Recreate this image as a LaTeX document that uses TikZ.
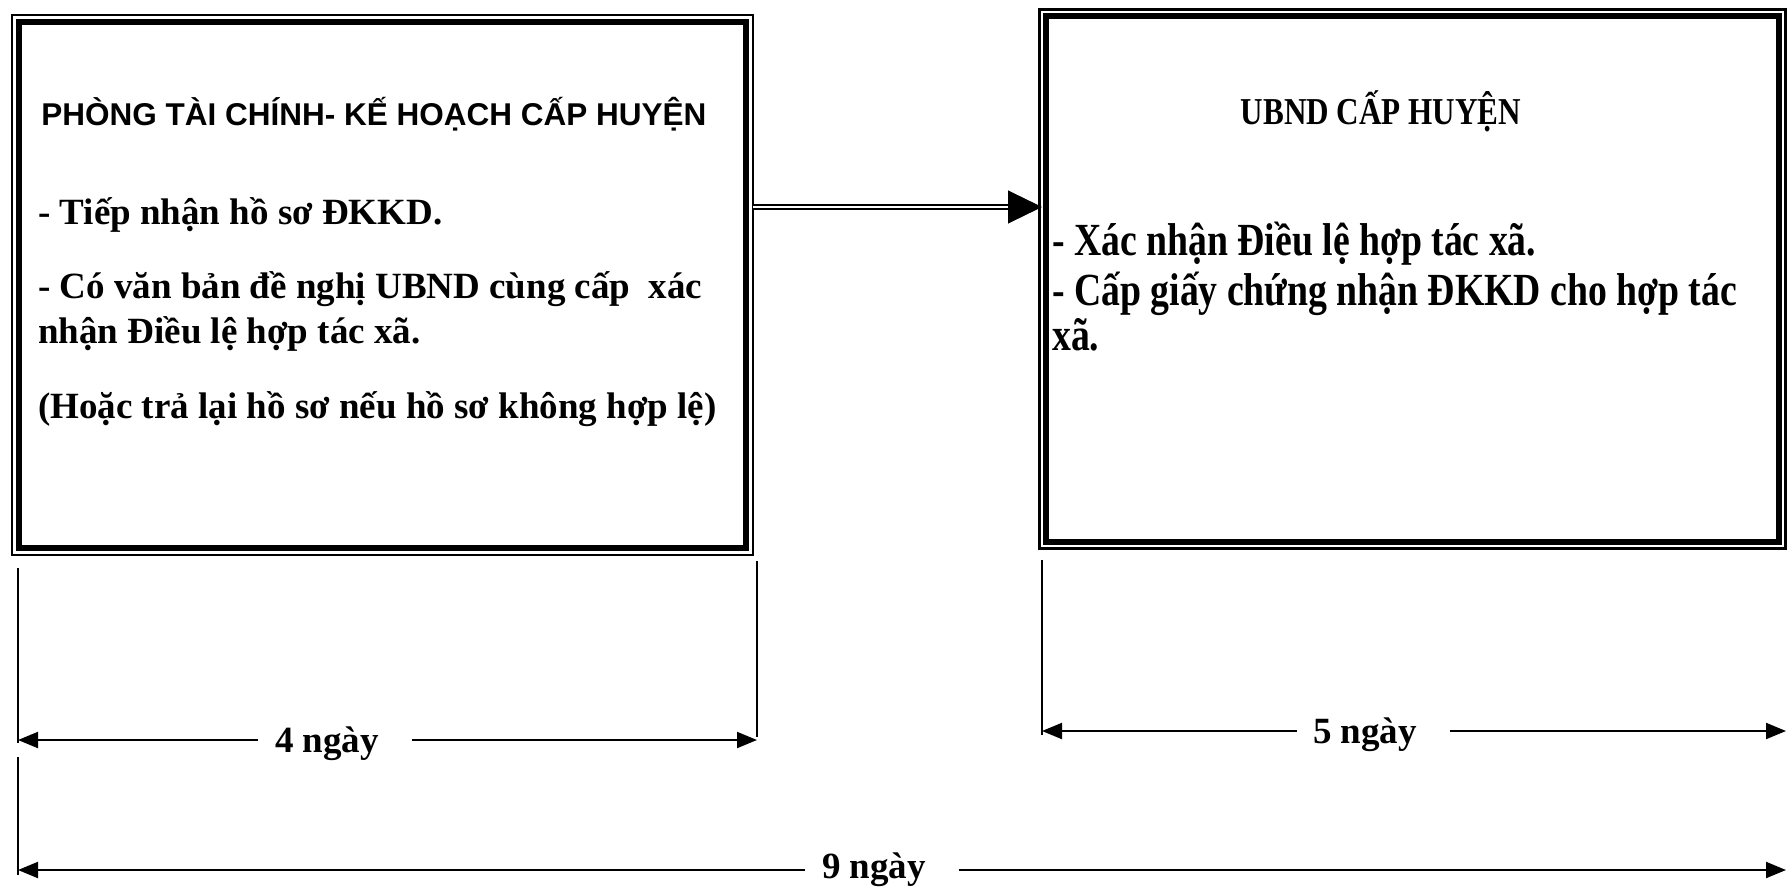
\documentclass[tikz,border=0pt]{standalone}
\usepackage{fontspec}
\setmainfont{Liberation Serif}
\newfontfamily\titlesans{Liberation Sans}
\newfontfamily\condserif[FakeStretch=0.82]{Liberation Serif}
\usetikzlibrary{arrows.meta,calc}
\begin{document}
\begin{tikzpicture}[x=1pt,y=-1pt,
  thickbox/.style={draw, line width=6.5pt, outer sep=0pt, inner sep=0pt},
  thinframe/.style={draw, line width=2.2pt},
  lefttxt/.style={anchor=base west, inner sep=0pt, font=\bfseries\fontsize{37}{44}\selectfont},
  lefttitle/.style={anchor=base, inner sep=0pt, font=\titlesans\bfseries\fontsize{31.5}{38}\selectfont},
  righttxt/.style={anchor=base west, inner sep=0pt, font=\condserif\bfseries\fontsize{46}{54}\selectfont},
  righttitle/.style={anchor=base, inner sep=0pt, font=\condserif\bfseries\fontsize{38}{46}\selectfont},
  dimtxt/.style={anchor=base, inner sep=0pt, font=\bfseries\fontsize{37}{44}\selectfont},
  dimarrow/.style={draw, line width=2pt, -{Triangle[length=20pt,width=16pt]}},
  extline/.style={draw, line width=2pt},
  dblline/.style={draw, double, line width=2pt, double distance=2.5pt},
  headarrow/.style={draw, line width=1pt, -{Triangle[length=34pt,width=33pt]}}
]
\useasboundingbox[fill=white] (0,0) rectangle (1787,889);

% boxes
\node[thickbox, minimum width=727pt, minimum height=526pt] (L) at (382.5,285) {};
\draw[thinframe] ([shift={(-7,-7)}]L.north west) rectangle ([shift={(7,7)}]L.south east);
\node[thickbox, minimum width=733pt, minimum height=526pt] (R) at (1412.5,279) {};
\draw[thinframe] ([shift={(-6.5,-6.5)}]R.north west) rectangle ([shift={(6.5,6.5)}]R.south east);

% left box text
\node[lefttitle] (lt) at (374,125) {PHÒNG TÀI CHÍNH- KẾ HOẠCH CẤP HUYỆN};
\node[lefttxt] (l1) at (38,224) {- Tiếp nhận hồ sơ ĐKKD.};
\node[lefttxt] (l2) at (38,298) {- Có văn bản đề nghị UBND cùng cấp\ \ xác};
\node[lefttxt] (l3) at (38,343) {nhận Điều lệ hợp tác xã.};
\node[lefttxt] (l4) at (38,418) {(Hoặc trả lại hồ sơ nếu hồ sơ không hợp lệ)};

% right box text
\node[righttitle] (rt) at (1381,124) {UBND CẤP HUYỆN};
\node[righttxt] (r1) at (1052,255) {- Xác nhận Điều lệ hợp tác xã.};
\node[righttxt] (r2) at (1052,305) {- Cấp giấy chứng nhận ĐKKD cho hợp tác};
\node[righttxt] (r3) at (1052,350) {xã.};

% connector between boxes
\path (L.east) ++(7,-78) coordinate (aS);
\path (R.west) ++(-4,-72) coordinate (aE);
\path (aE) ++(-34,0) coordinate (aM);
\path (aE) ++(-30,0) coordinate (aD);
\draw[dblline] (aS) -- (aD);
\draw[headarrow] (aM) -- (aE);

% extension lines
\coordinate (v1a) at (18,568); \coordinate (v1b) at (18,743);
\coordinate (v2a) at (18,757); \coordinate (v2b) at (18,875);
\coordinate (v3a) at (757,561); \coordinate (v3b) at (757,737);
\coordinate (v4a) at (1042,560); \coordinate (v4b) at (1042,735);
\draw[extline] (v1a) -- (v1b);
\draw[extline] (v2a) -- (v2b);
\draw[extline] (v3a) -- (v3b);
\draw[extline] (v4a) -- (v4b);

% dimension: 4 ngay
\node[dimtxt] (n4) at (327,752) {4 ngày};
\coordinate (d4a) at (18,740); \coordinate (d4b) at (757,740);
\draw[dimarrow] ([xshift=-17pt]n4.west |- d4a) -- (d4a);
\draw[dimarrow] ([xshift=33pt]n4.east |- d4b) -- (d4b);

% dimension: 5 ngay
\node[dimtxt] (n5) at (1365,743) {5 ngày};
\coordinate (d5a) at (1042,731); \coordinate (d5b) at (1786,731);
\draw[dimarrow] ([xshift=-16pt]n5.west |- d5a) -- (d5a);
\draw[dimarrow] ([xshift=33pt]n5.east |- d5b) -- (d5b);

% dimension: 9 ngay
\node[dimtxt] (n9) at (874,878) {9 ngày};
\coordinate (d9a) at (18,870); \coordinate (d9b) at (1786,870);
\draw[dimarrow] ([xshift=-17pt]n9.west |- d9a) -- (d9a);
\draw[dimarrow] ([xshift=33pt]n9.east |- d9b) -- (d9b);
\end{tikzpicture}
\end{document}
